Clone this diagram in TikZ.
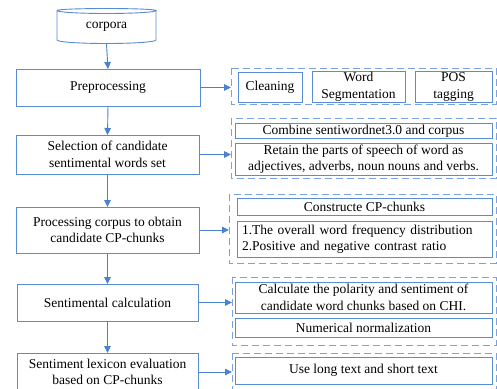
\documentclass[tikz,border=0pt]{standalone}
\usepackage{fontspec}
\setmainfont{Liberation Serif}
\usetikzlibrary{arrows.meta,calc}
\definecolor{boxc}{RGB}{88,140,212}
\definecolor{dashc}{RGB}{120,163,224}
\definecolor{arrc}{RGB}{74,130,206}
\tikzset{
  box/.style={draw=boxc, line width=0.9pt, inner sep=1pt, outer sep=0pt, align=center, font=\fontsize{13.5}{16.5}\selectfont},
  grp/.style={draw=dashc, line width=0.9pt, dash pattern=on 7pt off 4pt},
  arr/.style={draw=arrc, line width=0.9pt, -{Triangle[length=7pt,width=6.5pt]}},
}
\newcommand{\rbox}[6]{% name, x1, y1, x2, y2, text
  \node[box, minimum width=#4-#2, minimum height=#5-#3] (#1) at ({(#2+#4)/2},{(#3+#5)/2}) {#6};}
\begin{document}
\begin{tikzpicture}[x=1pt,y=-1pt]
\useasboundingbox (0,0) rectangle (497,388);
\fill[white] (0,0) rectangle (497,388);
% cylinder
\node[font=\fontsize{13.5}{16.5}\selectfont, minimum width=99pt, minimum height=34pt, inner sep=0pt] (corpora) at (106.5,27) {corpora};
\draw[boxc, line width=0.9pt] (57,10.5) arc[start angle=180, end angle=360, x radius=49.5pt, y radius=3pt]
  arc[start angle=0, end angle=180, x radius=49.5pt, y radius=2pt] -- (57,40) arc[start angle=180, end angle=360, x radius=49.5pt, y radius=3.5pt] -- (156,10.5);
% main boxes
\rbox{pre}{16}{69}{200}{106}{Preprocessing}
\rbox{sel}{16}{135}{199}{174}{Selection of candidate\\sentimental words set}
\rbox{proc}{16}{207}{199}{253}{Processing corpus to obtain\\candidate CP-chunks}
\rbox{calc}{17}{284}{198}{321}{Sentimental calculation}
\rbox{lex}{17}{353}{198}{391}{Sentiment lexicon evaluation\\based on CP-chunks}
% groups
\draw[grp] (231,68) rectangle (496,104); \coordinate (g1) at (231,87.5);
\draw[grp] (231,118) rectangle (496,178); \coordinate (g2) at (231,154.5);
\draw[grp] (229,194) rectangle (496,263); \coordinate (g3) at (229,230);
\draw[grp] (232,277) rectangle (496,345); \coordinate (g4) at (232,302.5);
\draw[grp] (232,353) rectangle (496,395); \coordinate (g5) at (232,372);
% inner boxes
\rbox{clean}{238}{72}{302}{102}{Cleaning}
\rbox{seg}{312}{72}{405}{102}{Word\\Segmentation}
\rbox{pos}{415}{72}{492}{102}{POS\\tagging}
\rbox{comb}{235}{124}{492}{138}{Combine sentiwordnet3.0 and corpus}
\rbox{ret}{235}{143}{492}{175}{Retain the parts of speech of word as\\adjectives, adverbs, noun nouns and verbs.}
\rbox{cons}{237}{198}{492}{215}{Constructe CP-chunks}
\node[box, align=left, minimum width=255pt, minimum height=36pt, anchor=north west, text width=245pt, inner sep=0pt, inner xsep=5pt] (freq) at (237,221) {1.The overall word frequency distribution\\2.Positive and negative contrast ratio};
\rbox{chi}{235}{282}{492}{313}{Calculate the polarity and sentiment of\\candidate word chunks based on CHI.}
\rbox{norm}{235}{318}{492}{337}{Numerical normalization}
\rbox{use}{235}{357}{492}{384}{Use long text and short text}
% arrows
\draw[arr] (corpora.south) -- (pre.north);
\draw[arr] (pre.south) -- (sel.north);
\draw[arr] (sel.south) -- (proc.north);
\draw[arr] (proc.south) -- (calc.north);
\draw[arr] (calc.south) -- (lex.north);
\draw[arr] (pre.east) -- (g1);
\draw[arr] (sel.east) -- (g2);
\draw[arr] (proc.east) -- (g3);
\draw[arr] (calc.east) -- (g4);
\draw[arr] (lex.east) -- (g5);
\end{tikzpicture}
\end{document}
